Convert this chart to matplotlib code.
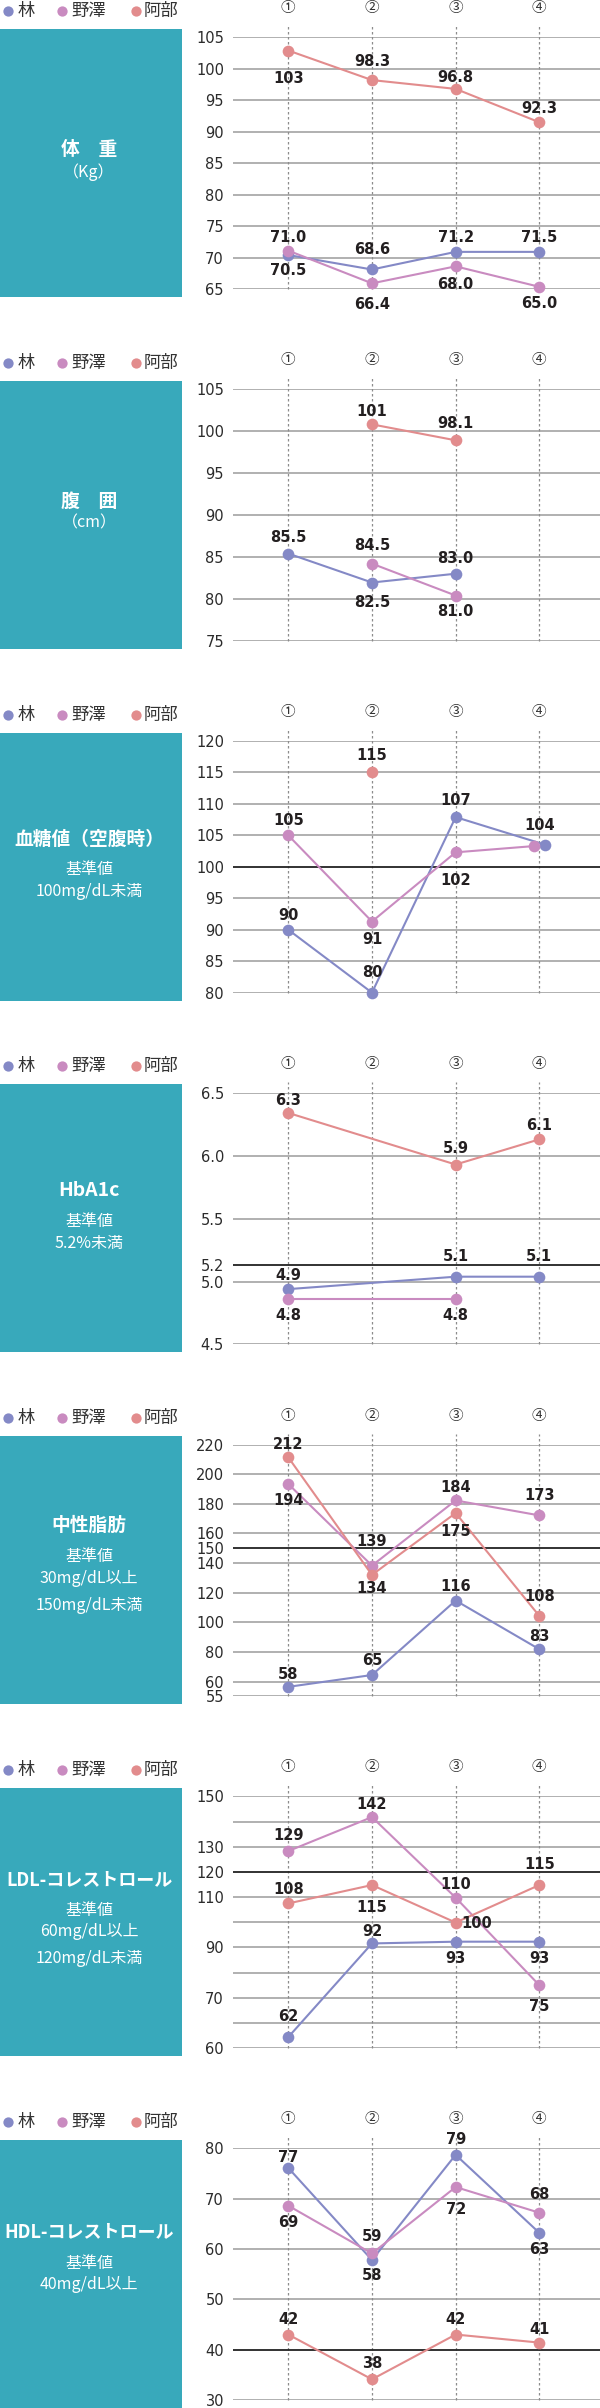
import numpy as np
import matplotlib
matplotlib.use('Agg')
import matplotlib.pyplot as plt
from matplotlib.patches import Rectangle
from matplotlib.transforms import blended_transform_factory

nan = np.nan

# ---------------- data ----------------
series_names = ['林', '野澤', '阿部']
rounds = ['①', '②', '③', '④']

# 体重 (Kg)
bw_hayashi = [70.4, 68.1, 70.9, 70.9]
bw_nozawa = [71.1, 65.9, 68.6, 65.35]
bw_abe = [102.9, 98.2, 96.8, 91.5]
bw_lab_hayashi = ['70.5', '68.6', '71.2', '71.5']
bw_lab_nozawa = ['71.0', '66.4', '68.0', '65.0']
bw_lab_abe = ['103', '98.3', '96.8', '92.3']

# 腹囲 (cm)
wc_hayashi = [85.4, 81.95, 83.0, nan]
wc_nozawa = [nan, 84.2, 80.4, nan]
wc_abe = [nan, 100.8, 98.9, nan]
wc_lab_hayashi = ['85.5', '82.5', '83.0', '']
wc_lab_nozawa = ['', '84.5', '81.0', '']
wc_lab_abe = ['', '101', '98.1', '']

# 血糖値
bg_hayashi = [90, 80, 107.9, 103.5]
bg_nozawa = [105, 91.3, 102.3, 103.3]
bg_abe = [nan, 115, nan, nan]
bg_lab_hayashi = ['90', '80', '107', '104']
bg_lab_nozawa = ['105', '91', '102', '']
bg_lab_abe = ['', '115', '', '']

# HbA1c
hb_hayashi = [4.94, nan, 5.06, 5.06]
hb_nozawa = [4.86, nan, 4.86, nan]
hb_abe = [6.34, nan, 5.93, 6.13]
hb_lab_hayashi = ['4.9', '', '5.1', '5.1']
hb_lab_nozawa = ['4.8', '', '4.8', '']
hb_lab_abe = ['6.3', '', '5.9', '6.1']

# 中性脂肪
tg_hayashi = [58.2, 64.4, 114.7, 81.8]
tg_nozawa = [193.4, 138.3, 182.3, 172.2]
tg_abe = [211.4, 132.0, 173.8, 104.3]
tg_lab_hayashi = ['58', '65', '116', '83']
tg_lab_nozawa = ['194', '139', '184', '173']
tg_lab_abe = ['212', '134', '175', '108']

# LDL
ldl_hayashi = [62.2, 91.6, 92.3, 92.3]
ldl_nozawa = [128.3, 141.8, 109.8, 75.0]
ldl_abe = [107.5, 114.8, 99.9, 114.8]
ldl_lab_hayashi = ['62', '92', '93', '93']
ldl_lab_nozawa = ['129', '142', '110', '75']
ldl_lab_abe = ['108', '115', '100', '115']

# HDL
hdl_hayashi = [76.1, 57.8, 78.7, 63.2]
hdl_nozawa = [68.6, 59.1, 72.3, 67.2]
hdl_abe = [43.0, 34.1, 43.0, 41.4]
hdl_lab_hayashi = ['77', '58', '79', '63']
hdl_lab_nozawa = ['69', '59', '72', '68']
hdl_lab_abe = ['42', '38', '42', '41']

# axis definitions (tick values / labels / reference line)
bw_ticks = [65, 70, 75, 80, 85, 90, 95, 100, 105]
wc_ticks = [75, 80, 85, 90, 95, 100, 105]
bg_ticks = [80, 85, 90, 95, 100, 105, 110, 115, 120]
hb_ticks = [4.5, 5.0, 5.2, 5.5, 6.0, 6.5]
tg_ticks = [55, 60, 80, 100, 120, 140, 150, 160, 180, 200, 220]
ldl_grid = [60, 65, 70, 80, 90, 100, 110, 120, 130, 140, 150]
ldl_ticks = [60, 70, 90, 110, 120, 130, 150]
hdl_ticks = [30, 40, 50, 60, 70, 80]

# ---------------- styles ----------------
colors = ['#8489C6', '#C98BC0', '#E28C8D']
TEAL = '#38A9BB'
W, H = 600, 2408
PANEL_STEP = 351.83
AX_TOP0 = 37.3
AX_H = 251.7
AX_L = 233
CAT_PX = 83.67
SUB = 11.5


# label offsets (dx, dy in pixels, dy upward)
def offs(dys, dxs=None):
    dxs = dxs or [0] * len(dys)
    return list(zip(dxs, dys))


panels = [
    dict(text=[('体　重', 120.7, 'bold', 13.5), ('（Kg）', 143.3, 'normal', 11.5)],
         lim=(65, 105), grid=bw_ticks, ticks=bw_ticks, fmt='{:g}', ref=None, anchors=None,
         series=[(bw_hayashi, bw_lab_hayashi, offs([-15, 21, 15, 15]), 0),
                 (bw_nozawa, bw_lab_nozawa, offs([14, -20, -17, -16]), 0),
                 (bw_abe, bw_lab_abe, offs([-27, 19, 12, 15]), 0)]),
    dict(text=[('腹　囲', 121.0, 'bold', 13.5), ('（cm）', 142.6, 'normal', 11.5)],
         lim=(75, 105), grid=wc_ticks, ticks=wc_ticks, fmt='{:g}', ref=None, anchors=None,
         series=[(wc_hayashi, wc_lab_hayashi, offs([17, -19, 16, 0]), 0),
                 (wc_nozawa, wc_lab_nozawa, offs([0, 19, -15, 0]), 0),
                 (wc_abe, wc_lab_abe, offs([0, 14, 18, 0]), 0)]),
    dict(text=[('血糖値（空腹時）', 106.6, 'bold', 13.5), ('基準値', 137.3, 'normal', SUB),
               ('100mg/dL未満', 159, 'normal', SUB)],
         lim=(80, 120), grid=bg_ticks, ticks=bg_ticks, fmt='{:g}', ref=100, anchors=None,
         series=[(bg_hayashi, bg_lab_hayashi, offs([15, 20.6, 17.7, 20], [0, 0, 0, -5.4]), [0, 0, 0, 6]),
                 (bg_nozawa, bg_lab_nozawa, offs([16, -17, -27.7, 0]), [0, 0, 0, -5]),
                 (bg_abe, bg_lab_abe, offs([0, 17.6, 0, 0]), 0)]),
    dict(text=[('HbA1c', 105.7, 'bold', 14), ('基準値', 136.7, 'normal', SUB),
               ('5.2%未満', 159, 'normal', SUB)],
         lim=(4.5, 6.5), grid=hb_ticks, ticks=hb_ticks, fmt='{:.1f}', ref=5.2,
         anchors=([4.5, 5.0, 5.2, 5.5, 6.5], [4.5, 5.0, 5.129, 5.5, 6.5]),
         series=[(hb_hayashi, hb_lab_hayashi, offs([14, 0, 21, 21]), 0),
                 (hb_nozawa, hb_lab_nozawa, offs([-15.7, 0, -15.7, 0]), 0),
                 (hb_abe, hb_lab_abe, offs([13, 0, 17, 15]), 0)]),
    dict(text=[('中性脂肪', 88.9, 'bold', 13.5), ('基準値', 120.5, 'normal', SUB),
               ('30mg/dL以上', 142.5, 'normal', SUB), ('150mg/dL未満', 169.2, 'normal', SUB)],
         lim=(55, 220), grid=tg_ticks, ticks=tg_ticks, fmt='{:g}', ref=150,
         anchors=([55, 60, 220], [50, 60, 220]),
         series=[(tg_hayashi, tg_lab_hayashi, offs([12.7, 15, 14.7, 13.3]), 0),
                 (tg_nozawa, tg_lab_nozawa, offs([-15.7, 25, 14, 20.7]), 0),
                 (tg_abe, tg_lab_abe, offs([13.7, -12.7, -17.4, 20.7]), 0)]),
    dict(text=[('LDL-コレストロール', 91.4, 'bold', 13), ('基準値', 122.1, 'normal', SUB),
               ('60mg/dL以上', 143.7, 'normal', SUB), ('120mg/dL未満', 170.4, 'normal', SUB)],
         lim=(60, 150), grid=ldl_grid, ticks=ldl_ticks, fmt='{:g}', ref=120,
         anchors=([60, 70, 150], [50, 70, 150]),
         series=[(ldl_hayashi, ldl_lab_hayashi, offs([21.7, 12.7, -15.7, -15.7]), 0),
                 (ldl_nozawa, ldl_lab_nozawa, offs([16, 13, 14, -20]), 0),
                 (ldl_abe, ldl_lab_abe, offs([14.7, -21.4, 0, 21.6], [0, 0, 21, 0]), 0)]),
    dict(text=[('HDL-コレストロール', 92, 'bold', 13), ('基準値', 124, 'normal', SUB),
               ('40mg/dL以上', 145, 'normal', SUB)],
         lim=(30, 80), grid=hdl_ticks, ticks=hdl_ticks, fmt='{:g}', ref=40, anchors=None,
         series=[(hdl_hayashi, hdl_lab_hayashi, offs([11.3, -15, 15.7, -16]), 0),
                 (hdl_nozawa, hdl_lab_nozawa, offs([-16, 17.6, -21.3, 18.7]), 0),
                 (hdl_abe, hdl_lab_abe, offs([16, 16.3, 16, 13.4]), 0)]),
]

CJK = ['Noto Sans CJK JP', 'DejaVu Sans']
plt.rcParams['font.family'] = ['DejaVu Sans', 'Noto Sans CJK JP']


def make_scale(vals, lins):
    v = np.asarray(vals, float)
    l = np.asarray(lins, float)
    v = np.concatenate([[v[0] - 1e4], v, [v[-1] + 1e4]])
    l = np.concatenate([[l[0] - 1e4], l, [l[-1] + 1e4]])
    return (lambda x: np.interp(x, v, l)), (lambda y: np.interp(y, l, v))


fig = plt.figure(figsize=(W / 100, H / 100), dpi=100)
bg = fig.add_axes([0, 0, 1, 1], zorder=0)
bg.set_xlim(0, W)
bg.set_ylim(H, 0)
bg.axis('off')

for i, p in enumerate(panels):
    T = AX_TOP0 + PANEL_STEP * i
    box_top = T - 8.3
    # teal title box
    bg.add_patch(Rectangle((0, box_top), 182, 268, facecolor=TEAL, edgecolor='none'))
    for s, yoff, wt, fs in p['text']:
        bg.text(89, box_top + yoff, s, ha='center', va='center', color='white',
                fontsize=fs, fontweight=wt, family=CJK)
    # legend
    ly = T - 26.4
    for name, c, cx, tx in zip(series_names, colors, [8.3, 62, 136], [18, 71, 144]):
        bg.plot([cx], [ly], 'o', ms=7.4, color=c, mec='none')
        bg.text(tx, ly, name, ha='left', va='center', fontsize=12.5, color='#333333', family=CJK)

    ax = fig.add_axes([AX_L / W, 1 - (T + AX_H) / H, (W - AX_L) / W, AX_H / H], zorder=2)
    ax.set_facecolor('none')
    if p['anchors'] is not None:
        ax.set_yscale('function', functions=make_scale(*p['anchors']))
    ax.set_ylim(*p['lim'])
    left = -(288.3 - AX_L) / CAT_PX
    ax.set_xlim(left, left + (W - AX_L) / CAT_PX)
    for sp in ax.spines.values():
        sp.set_visible(False)
    ax.set_xticks([])
    ax.set_yticks(p['ticks'])
    ax.set_yticklabels([p['fmt'].format(t) for t in p['ticks']])
    ax.tick_params(axis='y', length=0, pad=6.5, labelsize=10.5, labelcolor='#2B2B2B')

    for g in p['grid']:
        if p['ref'] is not None and abs(g - p['ref']) < 1e-9:
            continue
        ax.axhline(g, color='#A3A3A3', lw=1.2, zorder=1)
    if p['ref'] is not None:
        ax.axhline(p['ref'], color='#222222', lw=1.3, zorder=1.5)

    blend = blended_transform_factory(ax.transData, ax.transAxes)
    for k, r in enumerate(rounds):
        ax.plot([k, k], [0, 1 + 11 / AX_H], transform=blend, color='#8C8C8C', lw=0.9,
                ls=(0, (2, 2)), clip_on=False, zorder=1.2)
        ax.annotate(r, xy=(k, 1), xycoords=blend, xytext=(0, 29), textcoords='offset pixels',
                    ha='center', va='center', fontsize=10.5, color='#333333', family=CJK)

    for (vals, labs, off, dodge), c in zip(p['series'], colors):
        y = np.asarray(vals, float)
        dod = np.zeros(4) if np.isscalar(dodge) else np.asarray(dodge, float)
        x = np.arange(4) + dod / CAT_PX
        m = ~np.isnan(y)
        ax.plot(x[m], y[m], color=c, lw=1.5, marker='o', ms=8.4, mec='none', zorder=3,
                clip_on=False)
        for xi, yi, lab, (dx, dy) in zip(x, y, labs, off):
            if lab and not np.isnan(yi):
                ax.annotate(lab, xy=(xi, yi), xytext=(dx, dy - 5.3), textcoords='offset pixels',
                            ha='center', va='baseline', fontsize=10.5, fontweight='bold',
                            color='#231F20', zorder=5, annotation_clip=False)

fig.savefig('out.png', dpi=100, facecolor='white')
